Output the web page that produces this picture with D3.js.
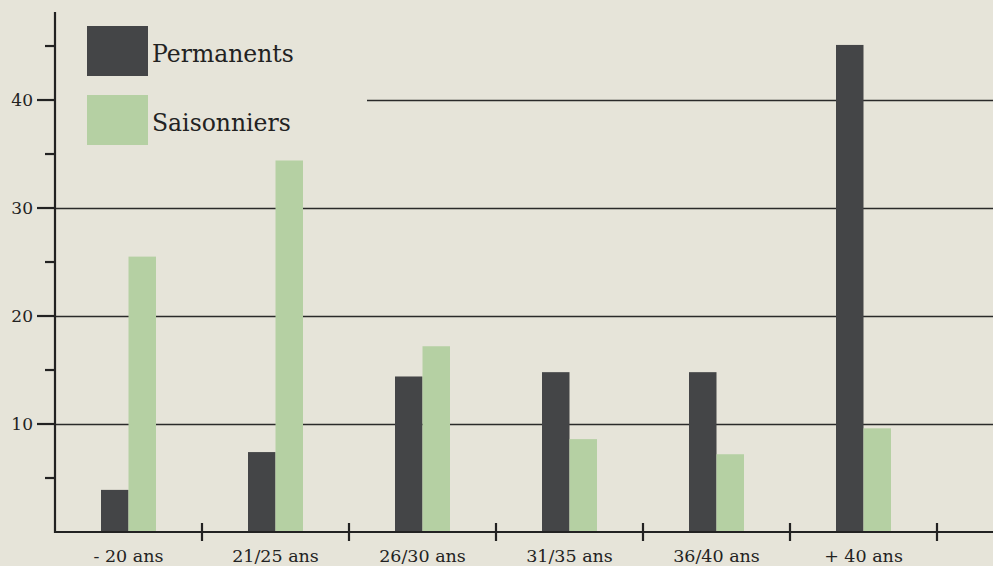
<!DOCTYPE html>
<html><head><meta charset="utf-8">
<script src="https://cdn.jsdelivr.net/npm/d3@7"></script>
<style>
html,body{margin:0;padding:0;background:#e6e4d9;}
svg{display:block;}
text{font-family:"DejaVu Serif","Liberation Serif",serif;fill:#222;}
</style></head>
<body>
<script>
const categories = ["- 20 ans","21/25 ans","26/30 ans","31/35 ans","36/40 ans","+ 40 ans"];
const permanents = [3.9, 7.4, 14.4, 14.8, 14.8, 45.1];
const saisonniers = [25.5, 34.4, 17.2, 8.6, 7.2, 9.6];
const seriesNames = ["Permanents","Saisonniers"];
const majorTicks = [10, 20, 30, 40];
const minorTicks = [5, 15, 25, 35, 45];
const colors = ["#444547", "#b5d0a3"];

const W = 993, H = 566;
const svg = d3.select("body").append("svg").attr("width", W).attr("height", H);
svg.append("rect").attr("width", W).attr("height", H).attr("fill", "#e6e4d9");

const x0 = 55, yBase = 532;
const x = d3.scaleBand().domain(categories).range([x0, x0 + 6 * 147]);
const y = d3.scaleLinear().domain([0, 48.15]).range([yBase, 12]);
const barW = 27.5;

// gridlines
const grid = svg.append("g");
majorTicks.forEach(t => {
  grid.append("line")
    .attr("x1", t === 40 ? 367 : x0).attr("x2", W)
    .attr("y1", Math.round(y(t)) + 0.5).attr("y2", Math.round(y(t)) + 0.5)
    .attr("stroke", "#2a2a2a").attr("stroke-width", 1.4);
});

// bars
const series = [permanents, saisonniers];
series.forEach((vals, si) => {
  svg.append("g").selectAll("rect").data(categories).join("rect")
    .attr("x", (d) => x(d) + x.bandwidth() / 2 - barW + si * barW)
    .attr("y", (d, i) => y(vals[i]))
    .attr("width", barW)
    .attr("height", (d, i) => yBase - y(vals[i]))
    .attr("fill", colors[si]);
});

// y axis
const axisColor = "#222";
svg.append("line").attr("x1", x0).attr("x2", x0).attr("y1", 12).attr("y2", yBase + 1)
  .attr("stroke", axisColor).attr("stroke-width", 2.2);
majorTicks.forEach(t => {
  svg.append("line").attr("x1", 37).attr("x2", x0).attr("y1", y(t)).attr("y2", y(t))
    .attr("stroke", axisColor).attr("stroke-width", 2.2);
  svg.append("text").attr("x", 33).attr("y", y(t)).attr("dy", "0.35em")
    .attr("text-anchor", "end").attr("font-size", 17).text(t);
});
minorTicks.forEach(t => {
  svg.append("line").attr("x1", 45).attr("x2", x0).attr("y1", y(t)).attr("y2", y(t))
    .attr("stroke", axisColor).attr("stroke-width", 2.2);
});

// x axis
svg.append("line").attr("x1", x0 - 1).attr("x2", W).attr("y1", yBase).attr("y2", yBase)
  .attr("stroke", axisColor).attr("stroke-width", 2.2);
categories.forEach((c, i) => {
  if (i > 0) {
    svg.append("line").attr("x1", x(c)).attr("x2", x(c)).attr("y1", yBase - 9).attr("y2", yBase + 9)
      .attr("stroke", axisColor).attr("stroke-width", 2.2);
  }
  svg.append("text").attr("x", x(c) + x.bandwidth() / 2).attr("y", 562)
    .attr("text-anchor", "middle").attr("font-size", 17.5).text(c);
});
const lastEdge = x0 + 6 * 147;
svg.append("line").attr("x1", lastEdge).attr("x2", lastEdge).attr("y1", yBase - 9).attr("y2", yBase + 9)
  .attr("stroke", axisColor).attr("stroke-width", 2.2);

// legend
const legend = svg.append("g");
seriesNames.forEach((n, i) => {
  legend.append("rect").attr("x", 87).attr("y", 26 + i * 69).attr("width", 61).attr("height", 50)
    .attr("fill", colors[i]);
  legend.append("text").attr("x", 152).attr("y", 62 + i * 69).attr("font-size", 23.5).text(n);
});
</script>
</body></html>
